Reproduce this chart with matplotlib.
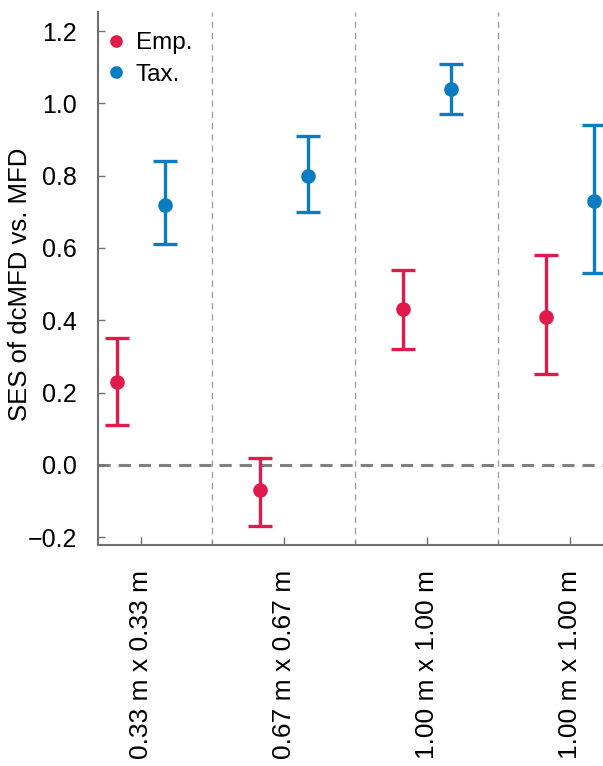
import matplotlib as mpl
import matplotlib.pyplot as plt
import numpy as np

mpl.rcParams.update({
    'font.family': ['Liberation Sans', 'DejaVu Sans'],
    'font.size': 17,
})

# plot sizes and SES estimates with confidence bounds
plot_sizes = ['0.33 m x 0.33 m', '0.67 m x 0.67 m', '1.00 m x 1.00 m', '1.00 m x 1.00 m']
emp_mean = [0.23, -0.07, 0.43, 0.41]
emp_low = [0.11, -0.17, 0.32, 0.25]
emp_high = [0.35, 0.02, 0.54, 0.58]
tax_mean = [0.72, 0.80, 1.04, 0.73]
tax_low = [0.61, 0.70, 0.97, 0.53]
tax_high = [0.84, 0.91, 1.11, 0.94]

red = '#E2194B'
blue = '#0A7CC1'

fig = plt.figure(figsize=(6.03, 7.66), dpi=100)
ax = fig.add_axes([0.1625, 0.2885, 0.8375, 0.6958])

x = np.arange(len(plot_sizes))
off = 0.17

for xs, m, lo, hi, c, lab in [
        (x - off, emp_mean, emp_low, emp_high, red, 'Emp.'),
        (x + off, tax_mean, tax_low, tax_high, blue, 'Tax.')]:
    m = np.array(m)
    yerr = [m - np.array(lo), np.array(hi) - m]
    ax.errorbar(xs, m, yerr=yerr, fmt='none', ecolor=c, elinewidth=2.4,
                capsize=8.5, capthick=2.4, zorder=3)
    ax.plot(xs, m, 'o', color=c, ms=9.5, label=lab, zorder=4)

ax.axhline(0, color='#808080', lw=2.2, ls=(0, (4, 2.6)), zorder=1)
for b in x[:-1] + 0.5:
    ax.axvline(b, color='#999999', lw=0.9, ls=(0, (5, 4)), zorder=1)

ax.set_xlim(-0.3, 3.231)
ax.set_ylim(-0.222, 1.253)
ax.set_yticks(np.arange(-0.2, 1.21, 0.2))
ax.set_yticklabels(['\u22120.2', '0.0', '0.2', '0.4', '0.6', '0.8', '1.0', '1.2'])
ax.set_xticks(x)
ax.set_xticks(x[:-1] + 0.5, minor=True)
ax.set_xticklabels(plot_sizes, rotation=90, va='top')

for s in ['top', 'right']:
    ax.spines[s].set_visible(False)
for s in ['left', 'bottom']:
    ax.spines[s].set_color('#707070')
    ax.spines[s].set_linewidth(1.5)

ax.tick_params(axis='y', direction='in', length=5, width=1, color='#707070',
               pad=15, labelsize=18)
ax.tick_params(axis='x', which='major', direction='in', length=6, width=1,
               color='#707070', pad=18, labelsize=19)
ax.tick_params(axis='x', which='minor', direction='in', length=3, width=0.8,
               color='#707070')

ax.set_ylabel('SES of dcMFD vs. MFD', fontsize=18.5)
ax.yaxis.set_label_coords(-0.13, 0.49)

ax.legend(loc='upper left', frameon=False, handlelength=0.5, handletextpad=0.55,
          borderaxespad=0.1, labelspacing=0.4, fontsize=17.5, markerscale=0.85,
          bbox_to_anchor=(0.0, 0.985))

fig.savefig('out.png', dpi=100)
